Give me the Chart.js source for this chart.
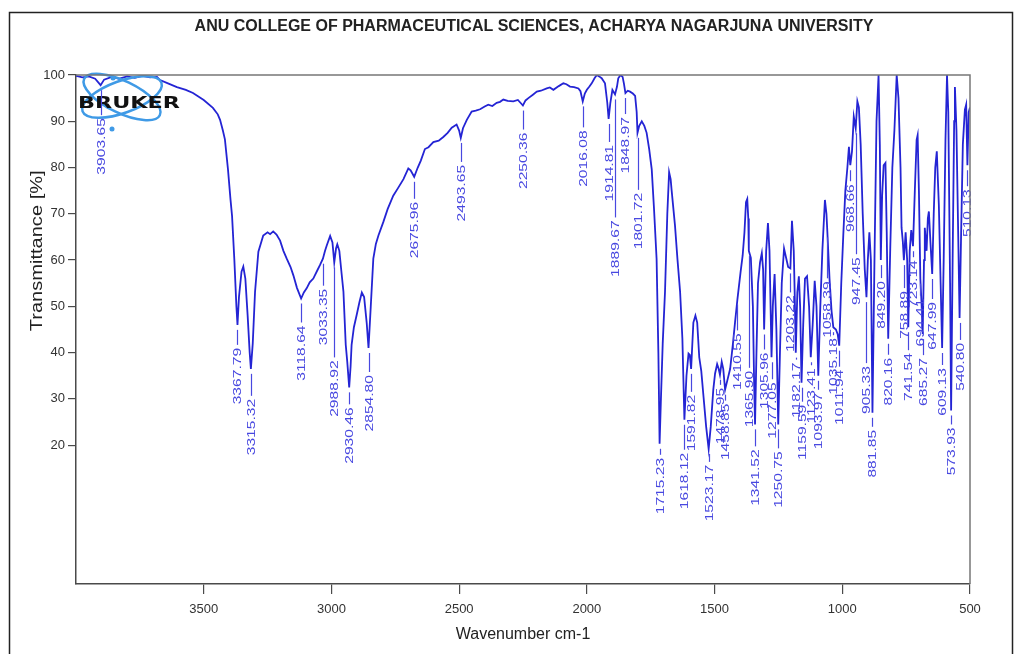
<!DOCTYPE html>
<html>
<head>
<meta charset="utf-8">
<script src="https://cdn.jsdelivr.net/npm/chart.js@4.4.1/dist/chart.umd.min.js"></script>
<style>
  html, body { margin: 0; padding: 0; background: #fff; }
  #wrap { width: 1018px; height: 654px; position: relative; }
</style>
</head>
<body>
<div id="wrap"><canvas id="irChart"></canvas></div>
<script>
// FT-IR spectrum (Bruker)

// wavenumber (cm-1), left to right as printed
const wavenumbers = [
  4000, 3975, 3950, 3925, 3903.65, 3890, 3860, 3830, 3800, 3770,
  3740, 3710, 3683, 3671, 3640, 3605, 3570, 3542, 3500, 3464,
  3445, 3436, 3425, 3417, 3405, 3395, 3389, 3380, 3372, 3367.79,
  3362, 3352, 3345, 3337, 3328, 3320, 3315.32, 3308, 3299, 3286,
  3267, 3250, 3240, 3228, 3215, 3201, 3188, 3175, 3160, 3149,
  3135, 3118.64, 3108, 3097, 3085, 3071, 3055, 3045, 3033.35, 3025,
  3018, 3005, 2996, 2988.92, 2982, 2977, 2969, 2960, 2953, 2944,
  2938, 2930.46, 2925, 2921, 2912, 2901, 2890, 2881, 2872, 2862,
  2854.80, 2846, 2836, 2826, 2816, 2797, 2780, 2758, 2740, 2718,
  2699, 2690, 2675.96, 2662, 2650, 2634, 2620, 2601, 2580, 2562,
  2545, 2529, 2510, 2500, 2493.65, 2485, 2470, 2451, 2435, 2418,
  2400, 2386, 2370, 2353, 2340, 2327, 2310, 2288, 2270, 2260,
  2250.36, 2240, 2229, 2210, 2196, 2180, 2157, 2145, 2131, 2110,
  2092, 2080, 2066, 2050, 2033, 2025, 2016.08, 2008, 2000, 1990,
  1981, 1970, 1961, 1952, 1942, 1929, 1920, 1914.81, 1908, 1900,
  1889.67, 1882, 1877, 1868, 1860, 1855, 1848.97, 1840, 1831, 1820,
  1811, 1805, 1801.72, 1795, 1785, 1775, 1766, 1756, 1746, 1737,
  1727, 1720, 1715.23, 1710, 1703, 1694, 1685, 1678, 1672, 1668,
  1655, 1645, 1635, 1626, 1618.12, 1610, 1602, 1597, 1591.82, 1583,
  1575, 1568, 1560, 1552, 1543, 1533, 1523.17, 1515, 1505, 1498,
  1490, 1484, 1478.95, 1472, 1466, 1458.85, 1450, 1439, 1428, 1420,
  1410.55, 1398, 1390, 1383, 1377, 1372, 1368, 1365.90, 1358, 1350,
  1345, 1341.52, 1336, 1330, 1322, 1315, 1310, 1305.96, 1298, 1291,
  1285, 1280, 1277.05, 1272, 1265, 1258, 1250.75, 1244, 1237, 1228,
  1220, 1212, 1203.22, 1197, 1190, 1186, 1182.17, 1176, 1170, 1165,
  1159.59, 1153, 1146, 1138, 1130, 1123.41, 1116, 1108, 1101, 1093.97,
  1086, 1078, 1068, 1062, 1058.39, 1050, 1042, 1035.18, 1025, 1018,
  1011.94, 1004, 996, 988, 980, 974, 968.66, 962, 955, 947.45,
  941, 935, 928, 920, 912, 905.33, 900, 894, 888, 881.85,
  874, 866, 858, 853, 849.20, 844, 838, 831, 826, 820.16,
  812, 804, 796, 787, 780, 772, 768, 763, 758.89, 752,
  746, 741.54, 736, 730, 723.14, 716, 709, 705, 700, 694.41,
  690, 685.27, 680, 677, 670, 665, 661, 655, 647.99, 642,
  636, 630, 622, 615, 609.13, 603, 596, 590, 585, 578,
  573.93, 568, 562, 559, 553, 546, 540.80, 535, 528, 520,
  515, 510.13, 505, 500
];

// transmittance (%), same order
const transmittance = [
  99.8, 99.5, 99.7, 99.2, 97.8, 99.0, 99.6, 99.2, 99.7, 99.4,
  99.8, 99.5, 99.6, 98.9, 98.2, 97.4, 96.8, 96.1, 94.6, 92.9,
  91.5, 90.3, 88.0, 86.1, 79.6, 73.0, 69.5, 60.0, 50.0, 46.0,
  52.0, 57.5, 58.6, 56.0, 48.0, 40.0, 36.5, 42.0, 53.2, 61.8,
  65.3, 66.0, 65.6, 66.2, 65.5, 64.2, 62.0, 60.3, 58.5, 56.7,
  54.0, 51.7, 53.0, 53.9, 55.2, 56.0, 57.8, 58.9, 60.3, 62.0,
  63.2, 65.2, 63.8, 59.5, 62.5, 63.4, 62.0, 57.0, 53.2, 41.7,
  38.0, 32.5, 37.0, 41.7, 45.5, 48.2, 51.0, 53.0, 52.0, 46.5,
  41.0, 50.0, 60.3, 63.5, 65.3, 68.2, 71.0, 73.9, 75.5, 77.5,
  79.8, 79.4, 78.0, 80.0, 81.5, 84.0, 84.4, 85.5, 85.8, 86.6,
  87.5, 88.6, 89.3, 88.0, 86.4, 88.5, 90.3, 92.1, 92.3, 92.6,
  93.2, 93.6, 93.3, 94.0, 94.2, 94.7, 94.4, 94.3, 94.6, 94.0,
  93.4, 94.5, 95.0, 95.8, 96.4, 96.6, 97.1, 97.3, 96.8, 97.6,
  98.2, 98.0, 97.5, 97.4, 97.1, 96.5, 94.3, 96.0, 96.8, 97.5,
  98.2, 99.3, 100, 99.7, 99.3, 98.2, 94.0, 90.5, 94.0, 96.8,
  95.8, 97.5, 99.3, 100, 99.6, 98.2, 96.1, 96.6, 96.4, 96.0,
  95.5, 92.0, 87.5, 89.0, 90.0, 89.0, 87.5, 84.0, 79.6, 71.0,
  60.3, 40.0, 20.3, 30.0, 42.0, 53.2, 70.0, 79.0, 77.5, 75.0,
  67.5, 60.0, 53.2, 43.0, 25.5, 35.0, 39.8, 39.5, 36.5, 46.5,
  48.0, 46.5, 39.0, 36.0, 30.3, 24.0, 19.2, 24.0, 32.0, 35.5,
  37.5, 36.5, 35.2, 38.0, 36.5, 32.0, 34.0, 36.5, 42.0, 46.5,
  51.5, 57.5, 61.0, 66.0, 72.5, 73.2, 69.0, 62.0, 60.5, 50.0,
  33.0, 24.5, 40.0, 55.0, 59.5, 61.5, 58.0, 45.0, 62.0, 68.0,
  62.0, 48.0, 39.0, 50.0, 57.0, 45.0, 24.5, 40.0, 55.0, 62.5,
  60.5, 58.5, 58.2, 68.5, 62.0, 52.0, 40.0, 53.0, 56.5, 50.0,
  33.5, 46.0, 56.0, 56.5, 50.0, 39.0, 46.0, 55.5, 50.0, 35.0,
  50.0, 62.0, 73.0, 70.0, 66.0, 56.0, 49.0, 45.5, 45.0, 44.0,
  41.5, 55.0, 65.5, 75.0, 80.0, 84.5, 80.5, 83.5, 91.0, 88.5,
  94.3, 93.0, 85.0, 70.0, 58.0, 52.0, 60.0, 66.0, 60.0, 27.0,
  60.0, 90.0, 100, 85.0, 60.0, 74.0, 80.5, 81.0, 66.0, 43.0,
  63.0, 80.0, 88.0, 100, 95.0, 80.0, 67.0, 64.0, 60.0, 66.0,
  60.0, 45.5, 62.0, 66.5, 63.0, 75.0, 86.0, 87.0, 75.0, 56.0,
  51.0, 44.0, 60.0, 67.0, 62.0, 69.0, 70.5, 64.0, 57.0, 70.0,
  80.0, 83.5, 72.0, 55.0, 41.0, 60.0, 86.0, 100, 92.0, 55.0,
  27.5, 60.0, 90.0, 97.4, 88.0, 65.0, 47.5, 65.0, 85.0, 92.5,
  93.6, 80.5, 92.0, 93.0
];

// picked peaks, as labelled on the print
const peakLabels = [
  3903.65, 3367.79, 3315.32, 3118.64, 3033.35, 2988.92, 2930.46, 2854.80,
  2675.96, 2493.65, 2250.36, 2016.08, 1914.81, 1889.67, 1848.97, 1801.72,
  1715.23, 1618.12, 1591.82, 1523.17, 1478.95, 1458.85, 1410.55, 1365.90,
  1341.52, 1305.96, 1277.05, 1250.75, 1203.22, 1182.17, 1159.59, 1123.41,
  1093.97, 1058.39, 1035.18, 1011.94, 968.66, 947.45, 905.33, 881.85,
  849.20, 820.16, 758.89, 741.54, 723.14, 694.41, 685.27, 647.99,
  609.13, 573.93, 540.80, 510.13
];
// how far below the peak (px) each label text starts
const peakLabelOffsets = [
  33, 23, 30, 27, 30, 98, 20, 27,
  25, 27, 27, 29, 26, 126, 24, 60,
  14, 33, 26, 16, 13, 14, 34, 120,
  25, 23, 25, 27, 27, 10, 22, 11,
  17, 49, 11, 24, 19, 129, 69, 17,
  21, 19, 31, 26, 14, 20, 24, 28,
  20, 17, 25, 24
];

const xTicks = [3500, 3000, 2500, 2000, 1500, 1000, 500];
const yTicks = [20, 30, 40, 50, 60, 70, 80, 90, 100];

const lineColor = '#2424d4';
const labelColor = '#4848e0';
const axisColor = '#4a4a4a';
const fontFamily = '"Liberation Sans", Arial, sans-serif';

const points = wavenumbers.map((wn, i) => ({ x: wn, y: transmittance[i] }));

// peak annotations: short leader + vertical text under each minimum
const peakLabelPlugin = {
  id: 'peakLabels',
  afterDatasetsDraw(chart) {
    const { ctx } = chart;
    const xs = chart.scales.x, ys = chart.scales.y;
    ctx.save();
    ctx.fillStyle = labelColor;
    ctx.strokeStyle = labelColor;
    ctx.lineWidth = 1.2;
    ctx.font = '11px ' + fontFamily;
    peakLabels.forEach((wn, i) => {
      const idx = wavenumbers.indexOf(wn);
      const px = Math.round(xs.getPixelForValue(wn)) + 0.5;
      const py = ys.getPixelForValue(transmittance[idx]);
      const textTop = py + peakLabelOffsets[i];
      if (textTop - 3 > py + 5) {
        ctx.beginPath();
        ctx.moveTo(px, py + 5);
        ctx.lineTo(px, textTop - 3);
        ctx.stroke();
      }
      ctx.save();
      ctx.translate(px, textTop);
      ctx.rotate(-Math.PI / 2);
      ctx.scale(1.42, 1);
      ctx.textAlign = 'right';
      ctx.textBaseline = 'middle';
      ctx.fillText(wn.toFixed(2), 0, 0);
      ctx.restore();
    });
    ctx.restore();
  }
};

// page frame, heading, y title, plot box and the Bruker mark
const framePlugin = {
  id: 'frame',
  beforeDraw(chart) {
    const { ctx, width, height } = chart;
    ctx.save();
    ctx.fillStyle = '#fff';
    ctx.fillRect(0, 0, width, height);
    ctx.restore();
  },
  afterDatasetsDraw(chart) {
    const { ctx } = chart;
    ctx.save();
    // logo
    ctx.strokeStyle = '#3f9ae6';
    ctx.lineWidth = 2.5;
    ctx.beginPath();
    ctx.ellipse(122, 97, 42, 16, 0.45, 0, 2 * Math.PI);
    ctx.stroke();
    ctx.beginPath();
    ctx.ellipse(122, 97, 42, 16, -0.35, 0, 2 * Math.PI);
    ctx.stroke();
    ctx.fillStyle = '#3f9ae6';
    ctx.beginPath(); ctx.arc(112, 129, 2.5, 0, 2 * Math.PI); ctx.fill();
    ctx.beginPath(); ctx.arc(113, 78, 2.5, 0, 2 * Math.PI); ctx.fill();
    ctx.fillStyle = '#111';
    ctx.font = 'bold 16px "DejaVu Sans", sans-serif';
    ctx.textBaseline = 'middle';
    const w = ctx.measureText('BRUKER').width;
    ctx.translate(78, 104);
    ctx.scale(102 / w, 1);
    ctx.fillText('BRUKER', 0, 0);
    ctx.restore();
  },
  afterDraw(chart) {
    const { ctx, chartArea: a } = chart;
    ctx.save();
    ctx.strokeStyle = '#777';
    ctx.lineWidth = 1.5;
    ctx.beginPath();
    ctx.moveTo(a.left, a.top);
    ctx.lineTo(a.right, a.top);
    ctx.lineTo(a.right, a.bottom);
    ctx.stroke();
    ctx.strokeStyle = '#222';
    ctx.lineWidth = 1.5;
    ctx.strokeRect(9.5, 12.5, 1003, 700);
    ctx.fillStyle = '#222';
    ctx.textAlign = 'center';
    ctx.textBaseline = 'middle';
    ctx.font = 'bold 16px ' + fontFamily;
    ctx.fillText('ANU COLLEGE OF PHARMACEUTICAL SCIENCES, ACHARYA NAGARJUNA UNIVERSITY', 534, 27);
    // y axis title, centred on the labelled 20-100 range
    ctx.save();
    ctx.translate(37, chart.scales.y.getPixelForValue(62));
    ctx.rotate(-Math.PI / 2);
    ctx.scale(1.18, 1);
    ctx.font = '17px ' + fontFamily;
    ctx.fillText('Transmittance [%]', 0, 0);
    ctx.restore();
    ctx.restore();
  }
};

const ctx = document.getElementById('irChart').getContext('2d');

const config = {
  type: 'line',
  data: {
    datasets: [{
      label: 'Transmittance',
      data: points,
      borderColor: lineColor,
      borderWidth: 1.8,
      pointRadius: 0,
      tension: 0,
      fill: false
    }]
  },
  options: {
    responsive: true,
    maintainAspectRatio: false,
    devicePixelRatio: 1,
    animation: false,
    layout: { padding: { top: 75, right: 48, bottom: 0, left: 0 } },
    plugins: {
      legend: { display: false },
      tooltip: { enabled: false },
      title: { display: false }
    },
    scales: {
      x: {
        type: 'linear',
        reverse: true,
        min: 500,
        max: 4000,
        afterBuildTicks: (scale) => { scale.ticks = xTicks.map(v => ({ value: v })); },
        afterFit: (scale) => { scale.height = 70; },
        grid: { drawOnChartArea: false, drawTicks: true, tickLength: 10, color: axisColor, lineWidth: 1.2 },
        border: { display: true, color: axisColor, width: 1.5 },
        ticks: { color: '#333', font: { family: fontFamily, size: 13 }, padding: 8, maxRotation: 0, callback: (v) => String(v) },
        title: { display: true, text: 'Wavenumber cm-1', color: '#222', font: { family: fontFamily, size: 16 }, padding: { top: 10, bottom: 10 } }
      },
      y: {
        type: 'linear',
        min: -10,
        max: 100,
        afterBuildTicks: (scale) => { scale.ticks = yTicks.map(v => ({ value: v })); },
        afterFit: (scale) => { scale.width = 76; },
        grid: { drawOnChartArea: false, drawTicks: true, tickLength: 8, color: axisColor, lineWidth: 1.2 },
        border: { display: true, color: axisColor, width: 1.5 },
        ticks: { color: '#333', font: { family: fontFamily, size: 13 }, padding: 3, callback: (v) => String(v) },
        title: { display: false }
      }
    }
  },
  plugins: [framePlugin, peakLabelPlugin]
};

const irChart = new Chart(ctx, config);
</script>
</body>
</html>
